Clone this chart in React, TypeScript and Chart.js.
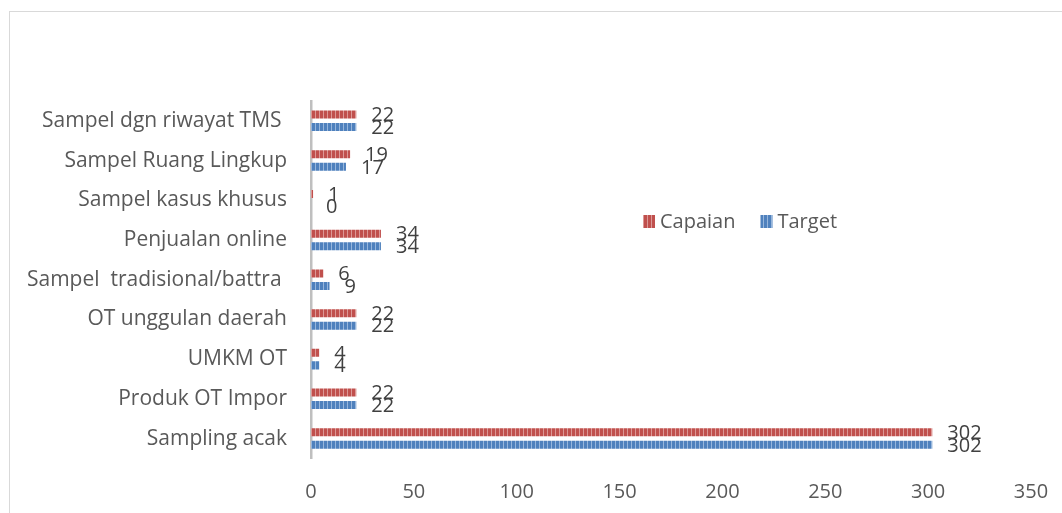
import React, { useEffect, useRef } from 'react';
import { Chart, registerables } from 'chart.js';

Chart.register(...registerables);

const categories = [
  'Sampel dgn riwayat TMS ',
  'Sampel Ruang Lingkup',
  'Sampel kasus khusus',
  'Penjualan online',
  'Sampel  tradisional/battra ',
  'OT unggulan daerah',
  'UMKM OT',
  'Produk OT Impor',
  'Sampling acak',
];
const capaian = [22, 19, 1, 34, 6, 22, 4, 22, 302];
const target = [22, 17, 0, 34, 9, 22, 4, 22, 302];
const seriesNames = ['Capaian', 'Target'];
const xMin = 0;
const xMax = 350;
const xStep = 50;

const FONT = '"Open Sans", "Noto Sans", sans-serif';

function makePattern(base: string, light: string): CanvasPattern | string {
  const c = document.createElement('canvas');
  c.width = 4;
  c.height = 4;
  const g = c.getContext('2d');
  if (!g) return base;
  g.fillStyle = base;
  g.fillRect(0, 0, 4, 4);
  g.fillStyle = light;
  g.fillRect(3, 0, 1, 4);
  const p = g.createPattern(c, 'repeat');
  return p || base;
}

const dataLabelPlugin = {
  id: 'dataLabels',
  afterDatasetsDraw(chart: any) {
    const ctx = chart.ctx;
    ctx.save();
    ctx.font = `20px ${FONT}`;
    ctx.fillStyle = '#404040';
    ctx.textBaseline = 'middle';
    ctx.textAlign = 'left';
    chart.data.datasets.forEach((ds: any, i: number) => {
      const meta = chart.getDatasetMeta(i);
      meta.data.forEach((el: any, j: number) => {
        ctx.fillText(String(ds.data[j]), el.x + 15, el.y + 1);
      });
    });
    ctx.restore();
  },
};

const legendPlugin = {
  id: 'customLegend',
  afterDraw(chart: any) {
    const ctx = chart.ctx;
    ctx.save();
    ctx.font = `20px ${FONT}`;
    ctx.textBaseline = 'middle';
    ctx.textAlign = 'left';
    const y = 222;
    let x = 643;
    chart.data.datasets.forEach((ds: any) => {
      ctx.fillStyle = ds.backgroundColor;
      ctx.fillRect(x, y - 7, 12, 13);
      ctx.fillStyle = '#595959';
      ctx.fillText(ds.label, x + 17, y);
      x += 17 + ctx.measureText(ds.label).width + 25;
    });
    ctx.restore();
  },
};

export default function App() {
  const ref = useRef<HTMLCanvasElement | null>(null);

  useEffect(() => {
    if (!ref.current) return;
    const red = makePattern('#C0504D', '#DC9896');
    const blue = makePattern('#4F81BD', '#97B6DC');
    const chart = new Chart(ref.current, {
      type: 'bar',
      data: {
        labels: categories,
        datasets: [
          { label: seriesNames[0], data: capaian, backgroundColor: red as any, barPercentage: 0.64, categoryPercentage: 0.63 },
          { label: seriesNames[1], data: target, backgroundColor: blue as any, barPercentage: 0.64, categoryPercentage: 0.63 },
        ],
      },
      options: {
        indexAxis: 'y',
        animation: false,
        responsive: false,
        maintainAspectRatio: false,
        layout: { padding: { top: 101, right: 31, bottom: 0, left: 0 } },
        plugins: {
          legend: { display: false },
          tooltip: { enabled: false },
        },
        scales: {
          x: {
            min: xMin,
            max: xMax,
            ticks: { stepSize: xStep, padding: 22, color: '#595959', font: { family: FONT, size: 20 } },
            grid: { display: false, drawTicks: false },
            border: { display: false },
            afterFit: (s: any) => { s.height = 54.6; s.paddingLeft = 0; s.paddingRight = 0; },
          },
          y: {
            ticks: { padding: 24, color: '#595959', font: { family: FONT, size: 21 } },
            grid: { display: false, drawTicks: false },
            border: { display: true, color: '#BFBFBF', width: 2.5 },
            afterFit: (s: any) => { s.width = 311; },
          },
        },
      },
      plugins: [dataLabelPlugin, legendPlugin],
    });
    return () => chart.destroy();
  }, []);

  return (
    <div style={{ position: 'fixed', left: 0, top: 0, width: 1062, height: 513, overflow: 'hidden', background: '#fff' }}>
      <div style={{ position: 'absolute', left: 9, top: 11, width: 1100, height: 600, border: '1px solid #D9D9D9', boxSizing: 'border-box' }} />
      <canvas ref={ref} width={1062} height={513} style={{ position: 'absolute', left: 0, top: 0, width: 1062, height: 513 }} />
    </div>
  );
}
